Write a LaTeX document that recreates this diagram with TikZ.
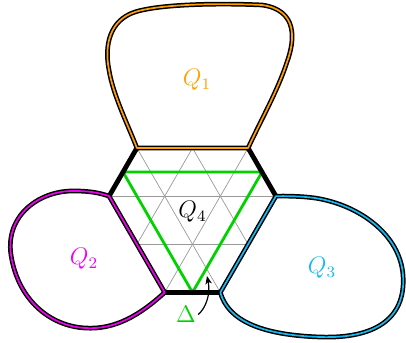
\documentclass[tikz,border=0pt]{standalone}
\usetikzlibrary{arrows.meta,calc}
\definecolor{qorange}{RGB}{255,160,0}
\definecolor{qmagenta}{RGB}{240,0,240}
\definecolor{qcyan}{RGB}{20,185,240}
\definecolor{qgreen}{RGB}{0,210,0}
\begin{document}
\begin{tikzpicture}[x=0.5pt,y=-0.5pt,
  gridline/.style={draw=gray!80,line width=0.35pt},
  hexedge/.style={draw=black,line width=2.4pt},
  blob/.style={draw=black,line width=0.75pt,double distance=0.85pt,line join=round},
  lab/.style={font=\large,inner sep=0pt},
  tri/.style={draw=qgreen,line width=1.4pt,line join=miter}]
\useasboundingbox (0,0) rectangle (406,342);
% hexagon corners
\def\cx{192.5}\def\s{55.6}\def\h{48.15}\def\yo{148}
\coordinate (A) at (\cx-\s,\yo);
\coordinate (B) at (\cx+\s,\yo);
\coordinate (C) at (\cx+1.5*\s,\yo+\h);
\coordinate (D) at (\cx+0.5*\s,\yo+3*\h);
\coordinate (E) at (\cx-0.5*\s,\yo+3*\h);
\coordinate (F) at (\cx-1.5*\s,\yo+\h);
% grid
\begin{scope}
\clip (A) -- (B) -- (C) -- (D) -- (E) -- (F) -- cycle;
\foreach \k in {1,2}
  \draw[gridline] (0,\yo+\k*\h) -- (406,\yo+\k*\h);
\foreach \i in {-4,...,4} {
  \draw[gridline] (\cx+\i*\s-2*\s,\yo-4*\h) -- (\cx+\i*\s+2*\s,\yo+4*\h);
  \draw[gridline] (\cx+\i*\s+2*\s,\yo-4*\h) -- (\cx+\i*\s-2*\s,\yo+4*\h);
}
\end{scope}
% green triangle
\draw[tri] ($(A)!0.5!(F)$) -- ($(B)!0.5!(C)$) -- ($(E)!0.5!(D)$) -- cycle;
% black hexagon edges
\draw[hexedge] (A) -- (F);
\draw[hexedge] (B) -- (C);
\draw[hexedge] (E) -- (D);
% blobs
\draw[blob,double=qorange] (A) -- (B)
  .. controls (262,118) and (278,90) .. (287,62)
  .. controls (295,40) and (298,10) .. (262,5)
  .. controls (220,3) and (160,4) .. (135,12)
  .. controls (110,20) and (104,45) .. (109,70)
  .. controls (113,95) and (128,125) .. (A) -- cycle;
\draw[blob,double=qmagenta] (F) -- (E)
  .. controls (140,315) and (115,330) .. (85,328)
  .. controls (50,326) and (18,300) .. (11,255)
  .. controls (5,215) and (40,190) .. (75,191)
  .. controls (90,191) and (100,193) .. (F) -- cycle;
\draw[blob,double=qcyan] (C) -- (D)
  .. controls (228,320) and (260,335) .. (320,337)
  .. controls (380,339) and (406,315) .. (403,275)
  .. controls (400,235) and (360,205) .. (315,198)
  .. controls (300,196) and (285,196) .. (C) -- cycle;
% labels
\node[lab,text=qorange] (q1) at (197,80) {$Q_1$};
\node[lab,text=qmagenta] (q2) at (84,259) {$Q_2$};
\node[lab,text=qcyan] (q3) at (322,268) {$Q_3$};
\node[lab,text=black] (q4) at (192.5,212) {$Q_4$};
\node[lab,text=qgreen,inner sep=1pt] (delta) at (186,314.5) {$\Delta$};
\coordinate (tip) at (207,276);
\draw[line width=0.6pt,-{Stealth[length=4pt,width=3.2pt,inset=1pt]}] (delta.east) .. controls (205,309) and (211,295) .. (tip);
\end{tikzpicture}
\end{document}
